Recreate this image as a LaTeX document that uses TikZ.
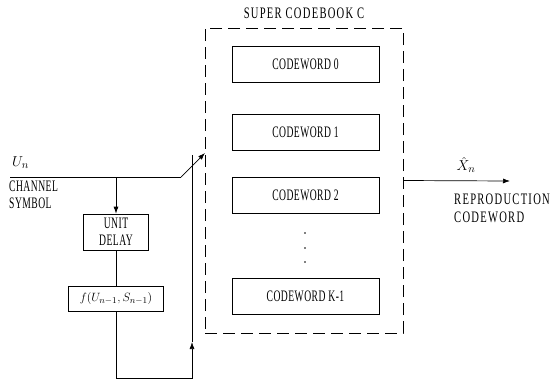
\documentclass[tikz,border=0pt]{standalone}
\usepackage{fontspec}
\usepackage{amsmath}
\usetikzlibrary{arrows.meta}
\usetikzlibrary{positioning}
\newfontfamily\cbfont[FakeStretch=0.6,LetterSpace=3]{Liberation Serif}
\newfontfamily\cbbigfont[FakeStretch=0.66,LetterSpace=8]{Liberation Serif}
\newcommand{\lbl}{\cbfont\fontsize{16}{17}\selectfont}
\newcommand{\biglbl}{\cbbigfont\fontsize{16}{18}\selectfont}

\begin{document}
\begin{tikzpicture}[x=1pt,y=-1pt]
 \tikzstyle{blk} = [draw, line width=0.7pt, inner sep=0pt, font=\lbl];
 \tikzstyle{cw} = [blk, minimum width=147pt, minimum height=36pt];
 \tikzstyle{C} = [color=black, line width=0.7pt];
 \tikzstyle{arr} = [C, -{Latex[length=7pt,width=5pt]}];
 \useasboundingbox (0,0) rectangle (560,381);

 % super codebook
 \node (title) at (304,13) {\biglbl SUPER CODEBOOK C};
 \node (book) [draw, C, dash pattern=on 12pt off 6pt, minimum width=198pt, minimum height=305pt, inner sep=0pt] at (304,180.5) {};
 \node (cw0) [cw] at (305.5,64.5) {CODEWORD 0};
 \node (cw1) [cw] at (305.5,132) {CODEWORD 1};
 \node (cw2) [cw] at (305.5,195.5) {CODEWORD 2};
 \node (cwk) [cw] at (305.5,296.5) {CODEWORD K-1};
 \fill (305,233) circle (0.9pt);
 \fill (305,248) circle (0.9pt);
 \fill (305,262) circle (0.9pt);

 % input and delay loop
 \coordinate (in) at (10,177);
 \coordinate (branch) at (116,177);
 \coordinate (pivot) at (181,177);
 \coordinate (swtip) at (205,153);
 \node (un) [anchor=south west, inner sep=1pt] at (11,170) {\fontsize{15}{17}\selectfont $U_n$};
 \node (chan) [anchor=north west, align=left, inner sep=0pt, font=\lbl] at (9,181) {CHANNEL\\SYMBOL};
 \node (delay) [blk, minimum width=65pt, minimum height=36pt, align=center] at (116,232) {UNIT\\DELAY};
 \node (fbox) [blk, minimum width=95pt, minimum height=25pt] at (116,298.5) {\fontsize{13}{15}\selectfont $f(U_{n-1},S_{n-1})$};
 \coordinate (fbturn) at (192,378);
 \coordinate (fbarr) at (192,342);
 \coordinate (fbend) at (192,155);

 \draw [C] (in) -- (pivot);
 \draw [arr] (pivot) -- (swtip);
 \draw [arr] (branch) -- (delay);
 \draw [C] (delay) -- (fbox);
 \draw [arr] (fbox.south) |- (fbturn) -- (fbarr);
 \draw [C] (fbarr) -- (fbend);

 % output
 \coordinate (out) at (510,181);
 \draw [arr] (book.east) -- (out);
 \node (xhat) [anchor=south, inner sep=1pt] at (466,174) {\fontsize{15}{17}\selectfont $\hat{X}_n$};
 \node (repro) [anchor=north west, align=left, inner sep=0pt, font=\biglbl] at (454,194) {REPRODUCTION\\CODEWORD};

\end{tikzpicture}
\end{document}
